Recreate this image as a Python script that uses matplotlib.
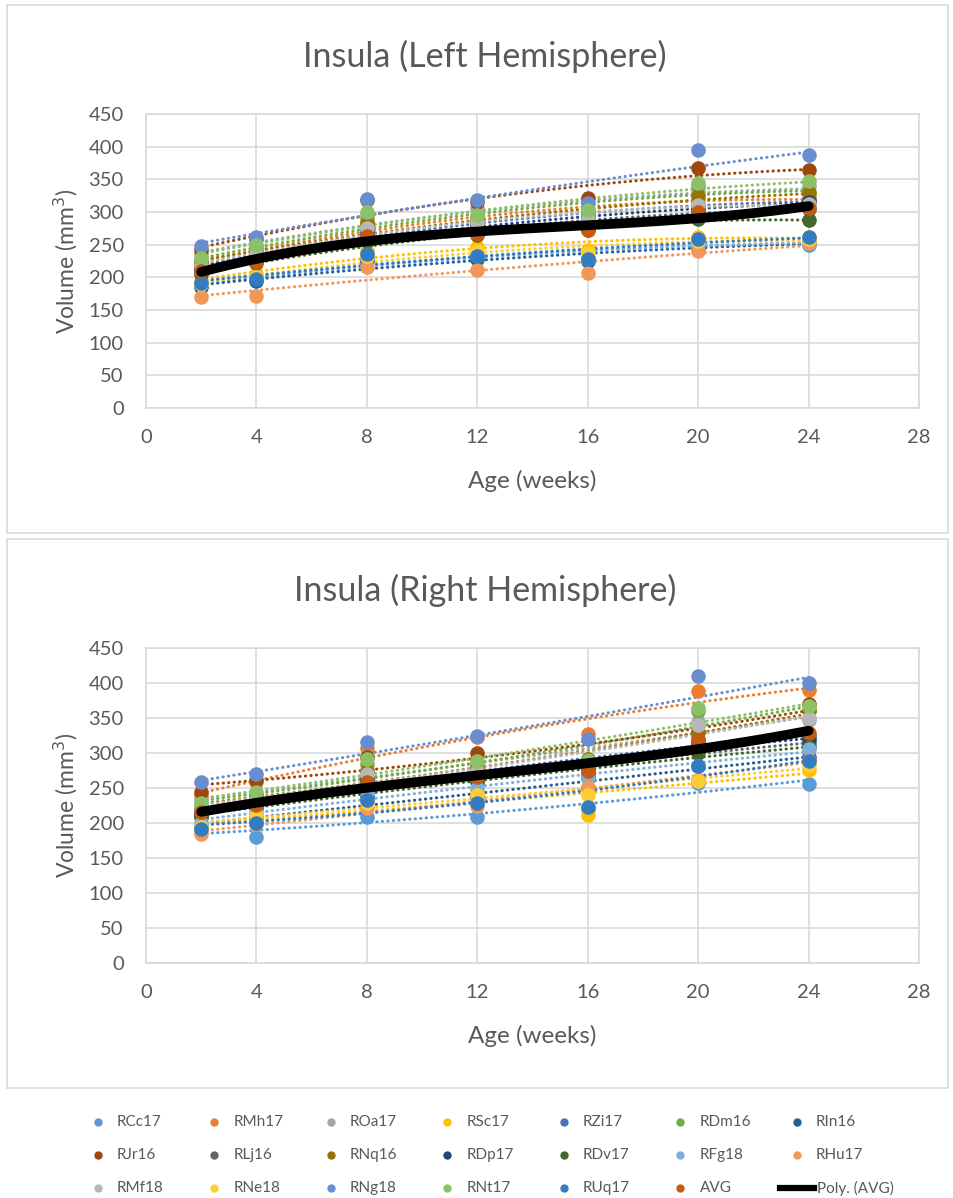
import numpy as np
import matplotlib
matplotlib.use("Agg")
import matplotlib.pyplot as plt
from matplotlib.lines import Line2D
from matplotlib.patches import Rectangle

plt.rcParams["font.family"] = ["Lato", "DejaVu Sans"]

weeks = [2, 4, 8, 12, 16, 20, 24]

names = ["RCc17", "RMh17", "ROa17", "RSc17", "RZi17", "RDm16", "RIn16",
         "RJr16", "RLj16", "RNq16", "RDp17", "RDv17", "RFg18", "RHu17",
         "RMf18", "RNe18", "RNg18", "RNt17", "RUq17", "AVG"]

colors = ["#5B9BD5", "#ED7D31", "#A5A5A5", "#FFC000", "#4472C4", "#70AD47", "#255E91",
          "#9E480E", "#636363", "#997300", "#264478", "#43682B", "#7CAFDD", "#F1975A",
          "#B7B7B7", "#FFCD33", "#698ED0", "#8CC168", "#327DC2", "#C55A11"]

# left hemisphere volumes (mm3)
left = {
    "RCc17": [188, 198, 228, 230, 230, 255, 250],
    "RMh17": [220, 240, 285, 290, 298, 318, 322],
    "ROa17": [235, 248, 296, 306, 300, 330, 340],
    "RSc17": [195, 205, 240, 247, 242, 262, 262],
    "RZi17": [215, 235, 272, 280, 292, 310, 318],
    "RDm16": [225, 245, 290, 292, 298, 340, 330],
    "RIn16": [185, 195, 225, 228, 225, 245, 255],
    "RJr16": [242, 258, 318, 315, 321, 367, 365],
    "RLj16": [210, 228, 262, 270, 280, 300, 305],
    "RNq16": [222, 238, 282, 285, 290, 325, 329],
    "RDp17": [212, 232, 268, 275, 285, 305, 316],
    "RDv17": [205, 222, 255, 265, 272, 290, 288],
    "RFg18": [190, 200, 230, 232, 228, 250, 256],
    "RHu17": [170, 172, 216, 211, 207, 240, 252],
    "RMf18": [218, 236, 275, 285, 290, 310, 312],
    "RNe18": [190, 200, 232, 240, 238, 255, 258],
    "RNg18": [248, 262, 320, 318, 314, 395, 387],
    "RNt17": [230, 250, 300, 296, 303, 344, 347],
    "RUq17": [192, 198, 235, 232, 228, 258, 262],
    "AVG":   [209, 224, 264, 266, 272, 300, 306],
}

# right hemisphere volumes (mm3)
right = {
    "RCc17": [190, 180, 209, 209, 220, 257, 256],
    "RMh17": [240, 258, 307, 323, 327, 388, 390],
    "ROa17": [235, 240, 275, 285, 290, 345, 347],
    "RSc17": [190, 205, 230, 245, 212, 262, 276],
    "RZi17": [215, 232, 265, 270, 280, 320, 325],
    "RDm16": [225, 242, 285, 280, 285, 360, 362],
    "RIn16": [195, 208, 238, 238, 250, 282, 295],
    "RJr16": [245, 261, 295, 300, 292, 330, 370],
    "RLj16": [210, 225, 258, 262, 270, 305, 315],
    "RNq16": [220, 238, 275, 278, 288, 330, 360],
    "RDp17": [212, 230, 262, 270, 276, 315, 320],
    "RDv17": [208, 222, 255, 258, 265, 300, 309],
    "RFg18": [200, 215, 245, 250, 265, 282, 306],
    "RHu17": [185, 198, 222, 225, 252, 262, 290],
    "RMf18": [222, 235, 270, 275, 285, 340, 350],
    "RNe18": [195, 210, 228, 240, 240, 260, 283],
    "RNg18": [258, 270, 316, 325, 320, 410, 400],
    "RNt17": [228, 245, 292, 288, 290, 364, 367],
    "RUq17": [192, 200, 233, 228, 223, 281, 288],
    "AVG":   [216, 226, 258, 266, 274, 318, 328],
}

titles = ["Insula (Left Hemisphere)", "Insula (Right Hemisphere)"]
txt = "#595959"

fig = plt.figure(figsize=(9.54, 11.98), dpi=100)
W, H = 954, 1198

# chart borders
for y0, y1 in [(5, 533), (539, 1088)]:
    fig.patches.append(Rectangle((7 / W, 1 - y1 / H), 941 / W, (y1 - y0) / H,
                                 transform=fig.transFigure, fill=False,
                                 edgecolor="#D9D9D9", lw=1.2))

axes_px = [(114, 408), (648, 963)]
title_y = [56, 590]
xs = np.linspace(2, 24, 200)

for k, (data, title) in enumerate(zip([left, right], titles)):
    top, bot = axes_px[k]
    ax = fig.add_axes([146 / W, 1 - bot / H, (919 - 146) / W, (bot - top) / H])
    for name, col in zip(names, colors):
        vals = np.array(data[name], dtype=float)
        if name == "AVG":
            c = np.polyfit(weeks, vals, 3)
            ax.plot(xs, np.polyval(c, xs), color="black", lw=7, zorder=5,
                    solid_capstyle="round")
        else:
            c = np.polyfit(weeks, vals, 2)
            ax.plot(xs, np.polyval(c, xs), color=col, lw=2.2, ls=(0, (0.1, 1.7)),
                    dash_capstyle="round", zorder=3)
        ax.scatter(weeks, vals, s=110, color=col, zorder=4, linewidths=0)
    ax.set_xlim(0, 28)
    ax.set_ylim(0, 450)
    ax.set_xticks(range(0, 29, 4))
    ax.set_yticks(range(0, 451, 50))
    ax.grid(True, color="#D9D9D9", lw=1.2)
    ax.set_axisbelow(True)
    for s in ax.spines.values():
        s.set_color("#D9D9D9")
        s.set_linewidth(1.2)
    ax.tick_params(axis="y", length=0, labelsize=14.5, colors=txt, pad=16)
    ax.tick_params(axis="x", length=0, labelsize=14.5, colors=txt, pad=15)
    ax.set_xlabel("Age (weeks)", fontsize=17.5, color=txt, labelpad=17)
    ax.set_ylabel("Volume (mm$^3$)", fontsize=16.5, color=txt, labelpad=6)
    fig.text(485 / W, 1 - title_y[k] / H, title, ha="center", va="center",
             fontsize=24.5, color=txt)

# legend drawn row by row like the original
labels = names + ["Poly. (AVG)"]
for i, lab in enumerate(labels):
    row, col = divmod(i, 7)
    x = 98 + 116.5 * col
    y = 1122 + 33 * row
    if lab == "Poly. (AVG)":
        fig.add_artist(Line2D([(x - 17) / W, (x + 17) / W], [1 - y / H, 1 - y / H],
                              transform=fig.transFigure, color="black", lw=4.5))
        tx = x + 20
    else:
        fig.add_artist(Line2D([x / W], [1 - y / H], transform=fig.transFigure,
                              marker="o", ls="none", color=colors[i], markersize=5))
        tx = x + 19
    fig.text(tx / W, 1 - y / H, lab, ha="left", va="center", fontsize=11, color=txt)

fig.savefig("out.png", dpi=100)
